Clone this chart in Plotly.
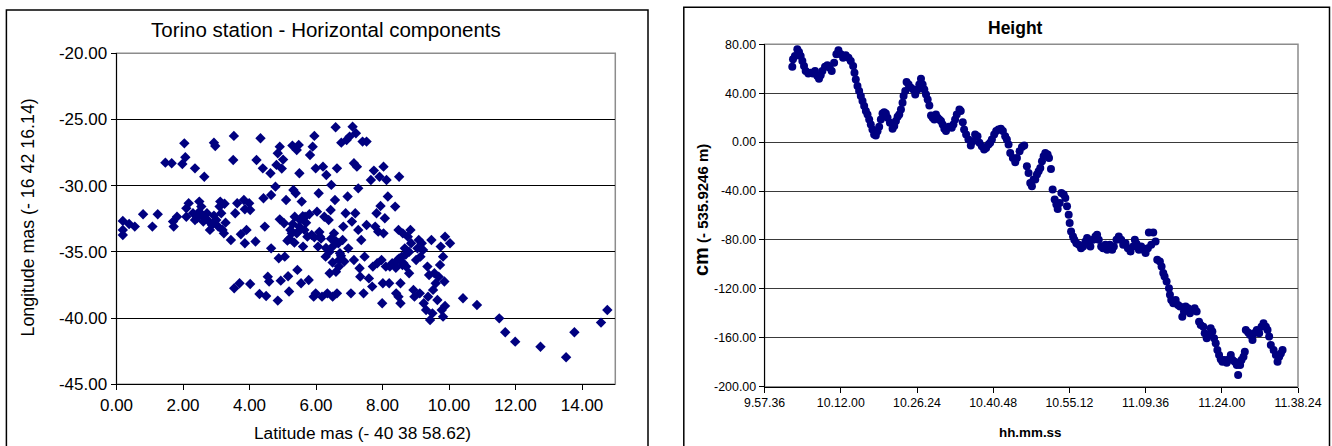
import plotly.graph_objects as go

# ---------------- Left chart: Torino station - Horizontal components ----------------
lat_mas = [
    0.19, 0.19, 0.19, 0.38, 0.55, 0.80, 1.08, 1.24,
    1.47, 1.66, 1.70, 1.72, 1.82, 1.98, 2.04, 2.07, 2.10, 2.10, 2.17,
    2.36, 2.64, 2.30, 2.42, 2.49, 2.55, 2.59, 2.61, 2.72, 2.74, 2.81, 2.87, 2.93, 2.93, 2.97, 3.00,
    3.06, 3.10, 3.12, 3.15, 3.19, 3.23, 3.25, 3.28, 2.49, 2.36,
    3.44, 3.51, 3.53, 3.57, 3.63, 3.54, 3.70, 3.74, 3.83, 3.86,
    3.86, 3.91, 3.99, 4.02, 4.02, 4.18, 4.21, 4.30, 4.33, 4.40,
    4.42, 4.46, 4.50, 4.55, 4.59, 4.63, 4.65, 4.65, 4.78, 4.81,
    4.85, 4.85, 4.91, 4.88, 4.91, 4.94, 4.97, 5.01, 5.04, 5.06,
    5.10, 5.14, 5.16, 5.19, 5.23, 5.27, 5.29, 5.32, 5.36, 5.39,
    5.42, 5.42, 5.44, 5.48, 5.50, 5.52, 5.55, 5.57, 5.61, 5.65,
    5.67, 5.74, 5.78, 5.80, 5.82, 5.87, 5.90, 5.93, 5.95, 5.99,
    5.99, 6.03, 6.06, 6.08, 6.12, 6.18, 6.21, 6.25, 6.29, 6.31,
    6.34, 6.38, 6.41, 6.44, 6.46, 6.50, 6.50, 6.54, 6.57, 6.59,
    6.63, 6.63, 6.67, 6.69, 6.72, 6.76, 6.80, 6.82, 6.85, 6.89,
    6.92, 6.95, 6.97, 7.01, 7.05, 7.08, 7.10, 7.14, 7.14, 7.18,
    7.20, 7.23, 7.27, 7.27, 7.31, 7.33, 7.36, 7.40, 7.43, 7.46,
    7.52, 7.52, 7.59, 7.65, 7.69, 7.71, 7.74, 7.78, 7.82, 7.84,
    7.87, 7.91, 7.94, 7.97, 7.99, 8.01, 8.03, 8.03, 8.07, 8.10,
    8.12, 8.16, 8.20, 8.22, 8.29, 8.35, 8.38, 8.41, 8.45, 8.48,
    8.48, 8.50, 8.54, 8.54, 8.58, 8.61, 8.63, 8.67, 8.71, 8.76,
    8.80, 8.84, 8.86, 8.93, 8.96, 9.01, 9.05, 9.09, 9.12, 9.14,
    9.18, 9.22, 9.24, 9.31, 9.35, 9.37, 9.40, 9.43, 9.47, 9.50,
    9.52, 9.56, 9.60, 9.65, 9.69, 9.73, 9.75, 9.78, 9.82, 9.82,
    9.86, 9.88, 9.88, 10.03, 10.42, 10.84, 11.51, 11.69, 11.99, 12.75,
    13.52, 13.77, 14.57, 14.76,
    6.30, 6.40, 6.60, 6.70, 6.50, 6.75, 6.60, 6.45, 5.30, 5.50,
    5.60, 5.70, 5.45, 5.20, 5.35, 8.50, 8.60, 8.70, 8.40, 8.80,
    5.95, 6.10, 6.15,
]
lon_mas = [
    -32.66, -33.34, -33.72, -32.89, -33.09, -32.16, -33.09, -32.16,
    -28.26, -28.31, -32.71, -33.09, -32.34, -28.36, -26.80, -27.85, -31.71, -32.34, -31.33,
    -28.69, -29.32, -32.08, -32.46, -31.20, -31.58, -32.28, -32.71, -32.08, -32.59, -33.34, -32.97, -32.26, -26.75, -27.00, -32.59,
    -33.09, -31.58, -31.20, -32.08, -33.34, -33.60, -31.36, -32.79, -31.96, -32.59,
    -34.10, -28.06, -26.24, -32.08, -31.33, -37.75, -37.37, -33.67, -31.08, -31.78,
    -34.35, -33.34, -31.33, -31.83, -37.42, -34.22, -28.06, -38.18, -26.42, -28.69,
    -30.95, -33.09, -38.33, -36.87, -37.24, -29.06, -34.73, -30.70, -30.07, -28.43,
    -27.55, -38.68, -27.05, -35.48, -32.54, -37.17, -28.71, -28.03, -32.84, -35.36,
    -31.08, -34.15, -36.84, -37.99, -33.34, -33.60, -26.97, -30.32, -32.34, -30.57,
    -27.30, -33.60, -36.36, -26.92, -29.06, -32.59, -37.37, -31.20, -34.60, -33.34,
    -32.34, -33.85, -37.12, -32.16, -27.68, -33.72, -27.05, -38.38, -26.24, -28.69,
    -38.13, -31.96, -34.60, -30.57, -33.85, -38.38, -28.56, -32.34, -35.36, -29.19,
    -38.13, -32.59, -36.61, -31.83, -29.94, -34.60, -38.38, -33.60, -31.08, -25.59,
    -28.69, -38.13, -34.35, -36.11, -35.10, -26.75, -34.10, -33.09, -35.73, -32.08,
    -26.55, -30.82, -34.73, -26.29, -38.13, -32.71, -25.54, -28.31, -35.61, -32.08,
    -26.04, -28.56, -33.34, -30.20, -36.24, -36.87, -34.10, -26.67, -38.13, -35.36,
    -26.67, -32.97, -37.00, -29.57, -37.62, -36.11, -28.86, -33.09, -32.08, -35.86,
    -33.47, -29.32, -31.53, -35.61, -38.88, -37.37, -28.56, -33.60, -32.46, -36.11,
    -29.57, -30.82, -37.37, -36.11, -35.86, -35.98, -31.58, -38.13, -35.61, -33.34,
    -38.38, -29.32, -37.37, -38.88, -35.36, -33.60, -35.86, -34.73, -36.11, -33.85,
    -36.61, -33.34, -34.35, -37.87, -38.38, -35.61, -34.73, -34.10, -38.13, -35.36,
    -34.35, -34.85, -38.88, -39.39, -36.11, -38.38, -36.74, -40.14, -34.10, -39.64,
    -37.87, -36.61, -37.37, -38.63, -36.87, -35.98, -34.60, -39.39, -39.89, -35.36,
    -37.24, -33.85, -39.08, -34.35, -38.50, -39.01, -40.02, -41.07, -41.78, -42.16,
    -42.96, -41.07, -40.34, -39.39,
    -34.70, -35.00, -34.20, -35.60, -35.80, -35.30, -36.50, -34.00, -32.90, -33.10,
    -32.30, -32.80, -33.50, -34.00, -34.30, -35.50, -36.00, -35.20, -36.20, -35.00,
    -33.90, -33.50, -34.00,
]
lat_tick_vals = [0, 2, 4, 6, 8, 10, 12, 14]
lat_tick_text = ["0.00", "2.00", "4.00", "6.00", "8.00", "10.00", "12.00", "14.00"]
lon_tick_vals = [-45, -40, -35, -30, -25, -20]
lon_tick_text = ["-45.00", "-40.00", "-35.00", "-30.00", "-25.00", "-20.00"]

# ---------------- Right chart: Height ----------------
# epochs in seconds since midnight
height_time_s = [
    36170, 36178, 36200, 36227, 36246, 36265, 36284, 36303, 36322, 36352,
    36379, 36405, 36428, 36454, 36473, 36492, 36511, 36541, 36568, 36594,
    36617, 36644, 36670, 36693, 36720, 36746, 36776, 36807, 36833, 36860,
    36875, 36890, 36909, 36928, 36947, 36966, 36985, 37004, 37023, 37042,
    37060, 37079, 37098, 37117, 37136, 37155, 37174, 37193, 37212, 37231,
    37250, 37277, 37307, 37326, 37345, 37364, 37383, 37402, 37420, 37432,
    37451, 37466, 37489, 37515, 37542, 37564, 37591, 37610, 37629, 37648,
    37667, 37686, 37705, 37724, 37743, 37762, 37780, 37799, 37818, 37837,
    37856, 37875, 37894, 37913, 37943,
    37978, 37997, 38016, 38035, 38065, 38080, 38103, 38118, 38141, 38167,
    38194, 38217, 38243, 38270, 38292, 38319, 38345, 38368, 38395, 38414,
    38433, 38459, 38482, 38508, 38535, 38558, 38584, 38603, 38622, 38641,
    38671, 38698, 38717, 38747, 38774, 38800, 38830, 38849, 38868, 38887,
    38906, 38925, 38944, 38963, 38982, 39001, 39020, 39039, 39065, 39081,
    39103, 39122, 39145, 39164, 39179, 39202, 39221, 39247, 39266, 39285,
    39304, 39315, 39331, 39353, 39368, 39391, 39418, 39444, 39467, 39494,
    39513, 39531, 39550, 39581, 39607, 39626, 39645, 39672, 39694, 39721,
    39740, 39770, 39797, 39816, 39846, 39872, 39899, 39922, 39948, 39975,
    40005, 40035, 40054,
    40073, 40100, 40126, 40149, 40176, 40202, 40213, 40240, 40263, 40289,
    40308, 40338, 40357, 40376, 40391, 40414, 40441, 40452, 40467, 40490,
    40517, 40543, 40566, 40592, 40611, 40630, 40657, 40679, 40706, 40732,
    40755, 40782, 40801, 40831, 40846, 40869, 40895, 40914, 40933, 40952,
    40971, 40990, 41009, 41028, 41047, 41073, 41096, 41123, 41142, 41161,
    41187, 41210, 41225, 41248, 41263, 41286, 41301, 41312, 41339, 41361,
    41388, 41407, 41437, 41464, 41490, 41513, 41540, 41559, 41577, 41596,
    41627, 41653, 41672, 41691, 41710, 41729,
]
height_cm = [
    61.7, 67.7, 70.4, 75.9, 73.7, 70.4, 66.3, 62.2, 58.1, 56.2,
    56.8, 56.2, 58.1, 54.0, 51.9, 54.6, 58.1, 61.7, 62.8, 60.9,
    58.1, 65.0, 71.8, 75.1, 71.8, 69.1, 71.0, 69.1, 66.3, 62.2,
    56.8, 51.3, 45.9, 41.8, 37.7, 33.6, 29.5, 25.4, 22.6, 18.5,
    14.4, 10.3, 6.2, 5.4, 8.9, 12.5, 18.5, 23.4, 24.5, 23.4,
    19.9, 15.8, 10.9, 13.1, 17.2, 20.7, 22.6, 26.7, 32.2, 37.7,
    41.8, 49.1, 47.2, 44.5, 43.1, 39.0, 43.1, 47.2, 51.9, 47.2,
    43.1, 39.0, 34.9, 30.0, 21.8, 19.9, 18.5, 22.6, 19.9, 18.5,
    17.2, 14.4, 10.9, 9.0, 12.5,
    11.7, 14.4, 18.5, 22.6, 26.7, 25.4, 16.3, 10.3, 6.2, 2.1,
    -2.8, 0.8, 6.2, 4.9, -0.6, -3.3, -6.1, -4.7, -2.0, -0.6,
    2.1, 6.2, 9.0, 10.3, 10.9, 9.0, 4.9, 2.1, -2.0, -8.8,
    -12.9, -16.4, -12.9, -7.4, -3.9, -2.8, -19.7, -25.2, -33.4, -36.1,
    -30.6, -30.6, -26.5, -23.8, -21.1, -15.6, -11.5, -8.8, -10.2, -12.9,
    -21.9, -38.8, -47.0, -51.1, -54.7, -49.8, -41.6, -42.9, -45.7, -52.5,
    -59.3, -66.2, -73.0, -77.1, -79.8, -82.6, -83.9, -86.7, -85.3, -81.2,
    -78.5, -82.6, -85.3, -79.8, -77.1, -75.7, -79.8, -85.3, -86.7, -83.9,
    -88.0, -83.9, -88.0, -85.3, -79.8, -77.1, -79.8, -83.9, -82.6, -86.7,
    -89.4, -85.3, -79.8,
    -83.1, -88.0, -85.3, -88.0, -90.7, -86.7, -73.8, -83.9, -73.8, -81.2,
    -96.2, -97.6, -101.7, -107.1, -109.9, -114.0, -119.4, -124.9, -129.0, -131.7,
    -129.0, -133.1, -134.5, -142.7, -138.6, -134.5, -135.9, -140.0, -137.2, -135.9,
    -138.6, -146.8, -149.5, -150.9, -156.3, -160.4, -157.7, -152.2, -154.9, -160.4,
    -164.5, -170.0, -174.1, -177.6, -179.5, -178.2, -180.4, -177.6, -174.1, -178.2,
    -179.5, -182.3, -190.5, -182.3, -178.2, -175.5, -171.4, -153.6, -155.7, -157.7,
    -161.8, -156.3, -153.6, -156.3, -150.9, -148.1, -150.9, -153.6, -159.0, -165.9,
    -170.0, -174.1, -179.5, -175.5, -172.8, -170.0,
]
time_tick_vals = [35856, 36720, 37584, 38448, 39312, 40176, 41040, 41904]
time_tick_text = ["9.57.36", "10.12.00", "10.26.24", "10.40.48", "10.55.12", "11.09.36", "11.24.00", "11.38.24"]
height_tick_vals = [-200, -160, -120, -80, -40, 0, 40, 80]
height_tick_text = ["-200.00", "-160.00", "-120.00", "-80.00", "-40.00", "0.00", "40.00", "80.00"]

NAVY = "#000080"
FONT = "Liberation Sans, Arial, sans-serif"
W, H = 1332, 446

def px_x(v):
    return v / W

def px_y(v):
    return 1 - v / H

fig = go.Figure()
fig.add_trace(go.Scatter(
    x=lat_mas, y=lon_mas, mode="markers", xaxis="x", yaxis="y",
    marker=dict(symbol="diamond", size=8, color=NAVY, line=dict(width=0)),
    hoverinfo="skip", showlegend=False,
))
fig.add_trace(go.Scatter(
    x=height_time_s, y=height_cm, mode="markers", xaxis="x2", yaxis="y2",
    marker=dict(symbol="circle", size=8, color=NAVY, line=dict(width=0)),
    hoverinfo="skip", showlegend=False,
))

common_axis = dict(showline=True, linecolor="black", linewidth=1, ticks="outside",
                   ticklen=5, tickcolor="black", zeroline=False, mirror=False,
                   automargin=False, fixedrange=True)

fig.update_layout(
    template="none",
    autosize=False,
    width=W, height=H, margin=dict(l=0, r=0, t=0, b=0, pad=0, autoexpand=False),
    paper_bgcolor="white", plot_bgcolor="white",
    font=dict(family=FONT, color="black"),
    showlegend=False,
    xaxis=dict(domain=[px_x(116.5), px_x(615.3)], range=[0, 15], anchor="y",
               tickvals=lat_tick_vals, ticktext=lat_tick_text, showgrid=False,
               tickfont=dict(size=17), **common_axis),
    yaxis=dict(domain=[px_y(384.3), px_y(53.3)], range=[-45, -20], anchor="x",
               tickvals=lon_tick_vals, ticktext=lon_tick_text, showgrid=True,
               gridcolor="black", gridwidth=1, tickfont=dict(size=17), **common_axis),
    xaxis2=dict(domain=[px_x(764.6), px_x(1298)], range=[35856, 41904], anchor="y2",
                tickvals=time_tick_vals, ticktext=time_tick_text, showgrid=False,
                tickfont=dict(size=12.3), **common_axis),
    yaxis2=dict(domain=[px_y(386.7), px_y(44.3)], range=[-200, 80], anchor="x2",
                tickvals=height_tick_vals, ticktext=height_tick_text, showgrid=True,
                gridcolor="#3a3a3a", gridwidth=1, tickfont=dict(size=12.4), **common_axis),
)

shapes = [
    # plot-area gray frames
    dict(type="rect", xref="x domain", yref="y domain", x0=0, x1=1, y0=0, y1=1,
         line=dict(color="#8c8c8c", width=1.5), layer="below"),
    dict(type="rect", xref="x2 domain", yref="y2 domain", x0=0, x1=1, y0=0, y1=1,
         line=dict(color="#8c8c8c", width=1.5), layer="below"),
    # panel borders
    dict(type="rect", xref="paper", yref="paper", x0=px_x(6.4), x1=px_x(648), y0=-0.05, y1=px_y(10),
         line=dict(color="black", width=1.5)),
    dict(type="rect", xref="paper", yref="paper", x0=px_x(683.8), x1=px_x(1329.5), y0=-0.05, y1=px_y(7.3),
         line=dict(color="black", width=1.5)),
]
fig.update_layout(shapes=shapes)

annotations = [
    dict(text="Torino station - Horizontal components", x=px_x(326), y=px_y(30),
         font=dict(size=20.5)),
    dict(text="Latitude mas (- 40 38 58.62)", x=px_x(362.3), y=px_y(433),
         font=dict(size=17.3)),
    dict(text="Longitude mas (- 16 42 16.14)", x=px_x(27.5), y=px_y(218),
         textangle=-90, font=dict(size=17.8)),
    dict(text="<b>Height</b>", x=px_x(1015.6), y=px_y(28), font=dict(size=17.5)),
    dict(text="<b>hh.mm.ss</b>", x=px_x(1030), y=px_y(432), font=dict(size=13.4)),
    dict(text="<b><span style='font-size:20px'>cm</span> (- 535.9246 m)</b>", x=px_x(701),
         y=px_y(210), textangle=-90, font=dict(size=15)),
]
for a in annotations:
    a.update(xref="paper", yref="paper", xanchor="center", yanchor="middle",
             showarrow=False)
fig.update_layout(annotations=annotations)

fig.write_html(
    "out.html",
    config={"displayModeBar": False, "responsive": False, "staticPlot": True},
    post_script="document.body.style.margin='0px';document.body.style.padding='0px';"
                "document.body.style.overflow='hidden';",
)
